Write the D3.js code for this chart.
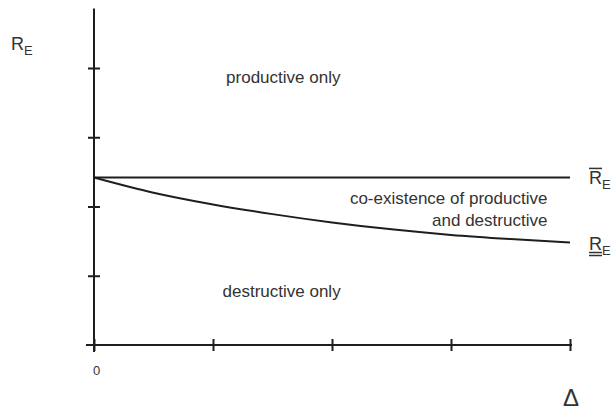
<!DOCTYPE html>
<html>
<head>
<meta charset="utf-8">
<script src="https://cdn.jsdelivr.net/npm/d3@7"></script>
<style>
  body { margin: 0; background: #fff; }
  text { font-family: "Liberation Sans", Arial, sans-serif; fill: #333; }
</style>
</head>
<body>
<script>
// tick marks on both axes (only the origin is labelled)
const deltaTicks = [0, 1, 2, 3, 4];
const rTicks = [1, 2, 3, 4];

// the two thresholds, sampled along Delta
const deltaValues = [0, 0.5, 1, 1.5, 2, 2.5, 3, 3.5, 4];
const upperValues = [2.42, 2.42, 2.42, 2.42, 2.42, 2.42, 2.42, 2.42, 2.42];
const lowerValues = [2.42, 2.20, 2.03, 1.89, 1.77, 1.67, 1.59, 1.53, 1.48];

// region texts and where they sit (in data units)
const regionText = ["productive only", "co-existence of productive", "and destructive", "destructive only"];
const regionDelta = [1.11, 3.81, 3.81, 1.08];
const regionR = [3.78, 2.04, 1.72, 0.69];
const regionAnchor = ["start", "end", "end", "start"];

const width = 614, height = 411;
const ink = "#1e1e1e";

const svg = d3.select("body").append("svg")
    .attr("width", width)
    .attr("height", height);

const x = d3.scaleLinear().domain([0, 4]).range([94, 570]);
const y = d3.scaleLinear().domain([0, 4]).range([345, 68]);

// Axes: ticks cross the axis line, so shift the tick lines after drawing
const xAxis = svg.append("g")
    .attr("transform", `translate(0,${y(0)})`)
    .call(d3.axisBottom(x).tickValues(deltaTicks).tickSize(6).tickFormat(""));
xAxis.select(".domain").remove();
xAxis.selectAll(".tick line")
    .attr("y1", -6).attr("y2", 6)
    .attr("stroke", ink).attr("stroke-width", 2);

const yAxis = svg.append("g")
    .attr("transform", `translate(${x(0)},0)`)
    .call(d3.axisLeft(y).tickValues(rTicks).tickSize(6).tickFormat(""));
yAxis.select(".domain").remove();
yAxis.selectAll(".tick line")
    .attr("x1", -6).attr("x2", 6)
    .attr("stroke", ink).attr("stroke-width", 2);

svg.append("line")
    .attr("x1", x(0) - 8).attr("x2", x(4) + 2)
    .attr("y1", y(0)).attr("y2", y(0))
    .attr("stroke", ink).attr("stroke-width", 2);

svg.append("line")
    .attr("x1", x(0)).attr("x2", x(0))
    .attr("y1", y(4.86)).attr("y2", y(0) + 7)
    .attr("stroke", ink).attr("stroke-width", 2);

// threshold lines
const line = d3.line()
    .x((d, i) => x(deltaValues[i]))
    .y(d => y(d))
    .curve(d3.curveMonotoneX);

svg.append("path")
    .datum(upperValues)
    .attr("d", line)
    .attr("fill", "none")
    .attr("stroke", ink)
    .attr("stroke-width", 2);

svg.append("path")
    .datum(lowerValues)
    .attr("d", line)
    .attr("fill", "none")
    .attr("stroke", ink)
    .attr("stroke-width", 2);

// region labels
svg.selectAll(".region")
    .data(regionText)
    .join("text")
    .attr("class", "region")
    .attr("x", (d, i) => x(regionDelta[i]))
    .attr("y", (d, i) => y(regionR[i]))
    .attr("text-anchor", (d, i) => regionAnchor[i])
    .style("font-size", "17px")
    .text(d => d);

// R_E with a subscript, optionally over- or under-lined
function rLabel(px, py, mark) {
    const g = svg.append("g").attr("transform", `translate(${px},${py})`);
    g.append("text").attr("x", 0).attr("y", 0).style("font-size", "18px").text("R");
    g.append("text").attr("x", 13).attr("y", 5).style("font-size", "13px").text("E");
    if (mark === "over") {
        g.append("line").attr("x1", 0).attr("x2", 13).attr("y1", -16).attr("y2", -16)
            .attr("stroke", "#333").attr("stroke-width", 1.5);
    }
    if (mark === "under") {
        [3, 6].forEach(dy => g.append("line")
            .attr("x1", 0).attr("x2", 13).attr("y1", dy).attr("y2", dy)
            .attr("stroke", "#333").attr("stroke-width", 1.5));
    }
}

rLabel(11, 50, null);
rLabel(589, y(upperValues[upperValues.length - 1]) + 7, "over");
rLabel(589, y(lowerValues[lowerValues.length - 1]) + 7, "under");

// axis labels
svg.append("text")
    .attr("x", x(0) - 1).attr("y", y(0) + 30)
    .style("font-size", "13px")
    .text("0");

svg.append("text")
    .attr("x", x(4) - 7).attr("y", y(0) + 61)
    .style("font-size", "24px")
    .text("Δ");
</script>
</body>
</html>
